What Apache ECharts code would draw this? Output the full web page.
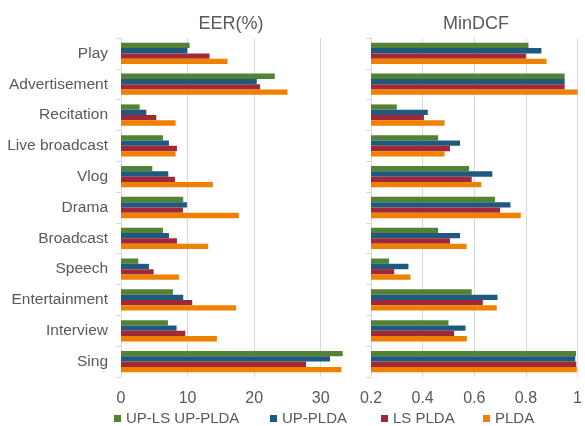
<!DOCTYPE html>
<html>
<head>
<meta charset="utf-8">
<script src="https://cdn.jsdelivr.net/npm/echarts@6/dist/echarts.min.js"></script>
<style>
html,body{margin:0;padding:0;background:#fff;}
#chart{width:585px;height:426px;}
</style>
</head>
<body>
<div id="chart"></div>
<script>
const categories = ['Play','Advertisement','Recitation','Live broadcast','Vlog','Drama','Broadcast','Speech','Entertainment','Interview','Sing'];
const seriesNames = ['UP-LS UP-PLDA','UP-PLDA','LS PLDA','PLDA'];
const eerTicks = [0, 10, 20, 30];
const dcfTicks = [0.2, 0.4, 0.6, 0.8, 1];

const eerGreen  = [10.3, 23.1, 2.8, 6.3, 4.7, 9.35, 6.3, 2.6, 7.8, 7.05, 33.3];
const eerBlue   = [9.95, 20.4, 3.8, 7.2, 7.1, 9.9, 7.2, 4.2, 9.35, 8.35, 31.4];
const eerRed    = [13.3, 20.9, 5.3, 8.4, 8.1, 9.3, 8.4, 4.9, 10.7, 9.65, 27.8];
const eerOrange = [16.0, 25.0, 8.2, 8.2, 13.8, 17.7, 13.1, 8.7, 17.3, 14.4, 33.1];

const dcfGreen  = [0.81, 0.95, 0.30, 0.46, 0.58, 0.68, 0.46, 0.27, 0.59, 0.50, 0.994];
const dcfBlue   = [0.86, 0.95, 0.42, 0.545, 0.67, 0.74, 0.545, 0.345, 0.69, 0.566, 0.991];
const dcfRed    = [0.80, 0.95, 0.405, 0.506, 0.59, 0.70, 0.506, 0.29, 0.633, 0.522, 0.995];
const dcfOrange = [0.88, 1.0, 0.485, 0.485, 0.627, 0.78, 0.57, 0.353, 0.687, 0.571, 0.997];

const colors = ['#548235', '#1F5A7E', '#A02837', '#F08000'];
const textColor = '#595959';
const font = 'Liberation Sans, Arial, sans-serif';

const eerData = [eerGreen, eerBlue, eerRed, eerOrange];
const dcfData = [dcfGreen, dcfBlue, dcfRed, dcfOrange];

const chart = echarts.init(document.getElementById('chart'), null, {renderer: 'canvas'});

function mkSeries(dataArr, idx) {
  return dataArr.map((d, i) => ({
    name: seriesNames[i],
    type: 'bar',
    xAxisIndex: idx,
    yAxisIndex: idx,
    data: d,
    barGap: '0%',
    barCategoryGap: '31%',
    clip: true,
    itemStyle: {color: colors[i]},
    emphasis: {disabled: true},
    animation: false
  }));
}

const legendLefts = [114, 270, 381, 483];

const option = {
  animation: false,
  color: colors,
  textStyle: {fontFamily: font, color: textColor},
  title: [
    {text: 'EER(%)', left: 226, top: 10, textAlign: 'center',
     textStyle: {fontSize: 18, fontWeight: 'normal', color: textColor, fontFamily: font}},
    {text: 'MinDCF', left: 471, top: 10, textAlign: 'center',
     textStyle: {fontSize: 18, fontWeight: 'normal', color: textColor, fontFamily: font}}
  ],
  legend: seriesNames.map((n, i) => ({
    data: [n],
    left: legendLefts[i],
    top: 411,
    icon: 'rect',
    itemWidth: 7,
    itemHeight: 7,
    itemGap: 0,
    padding: 0,
    selectedMode: false,
    textStyle: {fontSize: 15, color: textColor, fontFamily: font}
  })),
  grid: [
    {left: 121, top: 38, width: 233, height: 339},
    {left: 371, top: 38, width: 209, height: 339}
  ],
  xAxis: [
    {gridIndex: 0, type: 'value', min: eerTicks[0], max: 35, interval: 10,
     axisLine: {show: false}, axisTick: {show: false},
     splitLine: {show: true, showMaxLine: false, lineStyle: {color: '#d9d9d9', width: 1}},
     axisLabel: {showMaxLabel: false, fontSize: 16, color: textColor, margin: 14, fontFamily: font}},
    {gridIndex: 1, type: 'value', min: dcfTicks[0], max: dcfTicks[dcfTicks.length - 1], interval: 0.2,
     axisLine: {show: false}, axisTick: {show: false},
     splitLine: {show: true, lineStyle: {color: '#d9d9d9', width: 1}},
     axisLabel: {fontSize: 16, color: textColor, margin: 14, fontFamily: font,
       formatter: v => String(Math.round(v * 10) / 10)}}
  ],
  yAxis: [
    {gridIndex: 0, type: 'category', data: categories, inverse: true,
     axisLine: {show: true, lineStyle: {color: '#d9d9d9'}},
     axisTick: {show: true, length: 5, lineStyle: {color: '#d9d9d9'}},
     axisLabel: {fontSize: 15.5, color: textColor, margin: 13, fontFamily: font}},
    {gridIndex: 1, type: 'category', data: categories, inverse: true,
     axisLine: {show: true, lineStyle: {color: '#d9d9d9'}},
     axisTick: {show: true, length: 5, lineStyle: {color: '#d9d9d9'}},
     axisLabel: {show: false}}
  ],
  series: [].concat(mkSeries(eerData, 0), mkSeries(dcfData, 1))
};
chart.setOption(option);
</script>
</body>
</html>
